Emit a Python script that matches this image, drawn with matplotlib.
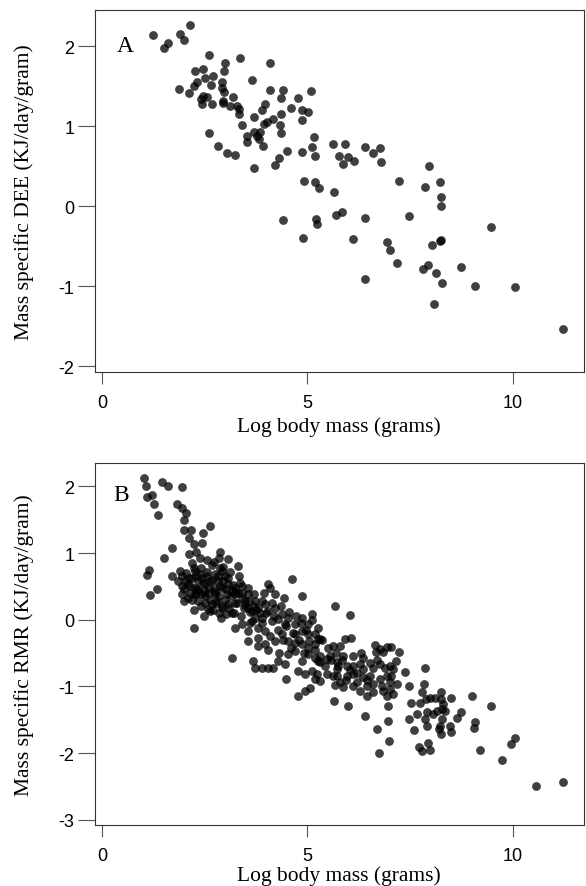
import numpy as np
import matplotlib.pyplot as plt

# panel A: daily energy expenditure (DEE)
dee_mass = [1.235, 1.51, 1.60, 1.90, 2.00, 2.14, 2.60, 3.36, 3.00, 4.09,
            2.27, 2.47, 2.51, 2.70, 2.98, 2.31, 2.24, 2.66, 2.92, 2.93,
            2.97, 3.66, 1.88, 2.11, 2.47, 2.55, 2.42, 2.44, 2.68, 2.94,
            2.95, 3.20, 3.12, 3.28, 3.33, 3.33, 4.09, 4.41, 5.09, 4.36,
            4.77, 3.98, 3.90, 4.61, 4.86, 5.02, 4.35, 3.69, 4.16, 4.01,
            3.95, 4.86, 3.41, 4.34, 4.35, 3.69, 3.85, 3.52, 3.77, 3.83,
            3.52, 3.93, 2.61, 2.82, 3.05, 3.25, 3.70, 4.22, 4.30, 4.50,
            4.86, 5.12, 5.16, 5.18, 5.62, 5.78, 4.93, 5.18, 5.29, 5.66,
            5.91, 6.00, 5.88, 6.14, 6.41, 6.59, 6.76, 6.80, 7.96, 7.24,
            7.86, 8.23, 8.26, 8.26, 5.69, 5.84, 5.21, 5.24, 6.41, 7.47,
            9.47, 4.89, 6.11, 6.95, 7.02, 7.19, 8.23, 8.04, 7.95, 7.83,
            8.13, 8.74, 8.28, 9.08, 10.05, 6.41, 8.08, 11.23, 4.41, 8.26]
dee_value = [2.148, 1.978, 2.044, 2.156, 2.078, 2.273, 1.894, 1.853, 1.798, 1.794,
             1.694, 1.719, 1.61, 1.635, 1.694, 1.553, 1.503, 1.519, 1.553, 1.485,
             1.435, 1.578, 1.469, 1.419, 1.385, 1.365, 1.344, 1.278, 1.278, 1.319,
             1.294, 1.369, 1.253, 1.253, 1.219, 1.153, 1.453, 1.453, 1.444, 1.353,
             1.36, 1.285, 1.203, 1.235, 1.21, 1.178, 1.153, 1.119, 1.094, 1.06,
             1.028, 1.078, 1.019, 1.019, 0.919, 0.935, 0.928, 0.885, 0.878, 0.844,
             0.803, 0.753, 0.923, 0.753, 0.669, 0.648, 0.478, 0.519, 0.61, 0.694,
             0.678, 0.744, 0.869, 0.628, 0.785, 0.635, 0.315, 0.31, 0.235, 0.185,
             0.778, 0.623, 0.528, 0.569, 0.744, 0.669, 0.728, 0.56, 0.503, 0.323,
             0.24, 0.303, 0.123, 0.006, -0.106, -0.069, -0.156, -0.215, -0.14, -0.123,
             -0.256, -0.398, -0.406, -0.448, -0.548, -0.703, -0.435, -0.485, -0.731, -0.785,
             -0.835, -0.753, -0.956, -0.994, -1.003, -0.906, -1.215, -1.535, -0.169, -0.42]

# panel B: resting metabolic rate (RMR)
rmr_mass = [1.015, 1.064, 1.088, 1.226, 1.259, 1.372, 1.470, 1.616, 1.941, 1.827,
            1.957, 2.038, 1.989, 2.006, 2.168, 2.119, 2.233, 2.444, 2.469, 2.623,
            1.713, 1.502, 2.119, 2.282, 1.145, 1.096, 1.340, 1.177, 1.713, 1.908,
            1.957, 2.883, 2.850, 3.078, 3.321, 3.337, 2.558, 2.672,
            2.233, 2.266, 2.184, 2.022, 1.989, 2.136, 2.266, 2.347, 2.428, 2.509,
            2.639, 2.753, 2.915, 2.956, 2.996, 2.266, 2.428, 2.590, 2.753, 2.915,
            3.078, 3.240, 3.402, 3.240, 3.402, 3.565, 3.581, 2.347, 2.509, 2.672,
            2.639, 2.850, 3.013, 3.159, 2.915, 3.078, 3.240, 3.451, 3.565, 3.727,
            3.890, 4.052, 4.101, 4.214, 4.425, 4.620, 4.864, 5.108, 2.233, 3.159,
            2.395, 2.558, 2.720, 2.477, 2.103, 2.314, 2.802, 3.045, 3.321, 2.103,
            1.941, 3.484, 2.834, 3.159, 1.860,
            3.646, 3.808, 3.971, 4.133, 4.052, 4.214, 4.377, 3.727, 3.890, 3.240,
            3.402, 3.565, 3.646, 3.808, 3.971, 4.133, 4.296, 4.458, 4.539, 4.702,
            4.864, 5.026, 4.702, 4.864, 5.026, 5.189, 5.270, 3.565, 3.792, 3.971,
            4.214, 4.377, 4.539, 4.702, 4.864, 5.026, 5.189, 4.539, 4.702, 4.864,
            5.026, 5.189, 4.783, 4.945, 5.108, 5.189, 4.474, 3.687, 3.727, 3.890,
            4.052, 4.174, 4.279, 4.458, 4.783, 4.945, 5.067, 5.229, 5.270,
            5.676, 6.041, 5.311, 5.920, 6.058, 5.636, 5.798, 5.554, 5.879, 6.123,
            6.301, 6.659, 6.772, 6.935, 7.032, 7.243, 6.675, 6.853, 5.311, 5.473,
            5.717, 5.717, 5.960, 6.123, 6.285, 6.366, 6.529, 6.772, 7.016, 7.097,
            7.373, 5.473, 5.717, 5.798, 5.960, 6.123, 6.204, 6.366, 6.529, 6.610,
            6.772, 6.935, 7.016, 7.178, 5.311, 5.676, 5.879, 6.123, 6.285, 6.448,
            6.448, 6.610, 6.853, 7.016, 7.097, 6.935, 7.471, 7.869, 7.852, 7.795,
            5.652, 5.993, 6.967, 7.519, 7.747, 7.893, 7.990, 8.120, 8.250, 8.250,
            8.315, 8.510, 9.013, 9.484, 7.666, 7.909, 8.071, 7.877, 7.925, 8.153,
            8.283, 8.364, 8.283, 8.234, 8.201, 8.250, 8.477, 8.510, 8.640, 8.737,
            9.078, 9.062, 6.415, 6.967, 6.691, 7.471, 7.601, 6.983, 6.740, 7.730,
            7.795, 7.990, 7.950, 9.208, 9.736, 9.971, 10.069, 10.573, 11.222,
            # dense core, x 2-4
            2.05, 2.15, 2.20, 2.30, 2.35, 2.40, 2.45, 2.50, 2.55, 2.60,
            2.62, 2.68, 2.70, 2.75, 2.78, 2.82, 2.85, 2.88, 2.92, 2.95,
            3.00, 3.02, 3.08, 3.10, 3.15, 3.18, 3.22, 3.25, 3.30, 3.35,
            3.38, 3.42, 3.48, 3.55, 3.60, 2.12, 2.28, 2.42, 2.58, 2.72,
            2.48, 2.90, 2.25, 1.95, 2.00, 3.70, 3.75, 3.85, 3.95, 2.88,
            3.12, 2.38, 2.18,
            # band, x 3.6-7.2
            3.90, 4.00, 4.10, 4.20, 4.28, 4.35, 4.40, 4.48, 4.55, 4.60,
            4.65, 4.72, 4.80, 4.85, 4.92, 4.98, 5.05, 5.12, 5.18, 5.25,
            5.30, 5.35, 5.42, 5.50, 5.58, 5.62, 5.70, 5.75, 5.85, 5.95,
            6.05, 6.20, 6.35, 6.45, 6.60, 6.70, 6.82, 6.90, 7.05, 7.15,
            3.60, 3.80, 4.05, 4.30, 3.70]
rmr_value = [2.131, 2.001, 1.846, 1.866, 1.731, 1.566, 2.071, 2.001, 1.996, 1.741,
             1.681, 1.606, 1.501, 1.341, 1.341, 1.221, 1.141, 1.151, 1.296, 1.411,
             1.071, 0.921, 0.991, 1.021, 0.742, 0.672, 0.462, 0.372, 0.652, 0.732,
             0.662, 1.011, 0.931, 0.911, 0.812, 0.652, 0.901, 0.822,
             0.782, 0.732, 0.632, 0.582, 0.462, 0.407, 0.482, 0.582, 0.622, 0.532,
             0.582, 0.682, 0.732, 0.792, 0.657, 0.382, 0.382, 0.407, 0.382, 0.482,
             0.532, 0.482, 0.507, 0.382, 0.332, 0.382, 0.282, 0.282, 0.257, 0.232,
             0.132, 0.107, 0.092, 0.107, 0.182, 0.232, 0.257, 0.182, 0.182, 0.282,
             0.282, 0.532, 0.482, 0.392, 0.332, 0.607, 0.362, 0.092, -0.118, -0.578,
             0.682, 0.657, 0.482, 0.432, 0.532, 0.457, 0.282, 0.382, 0.407, 0.332,
             0.382, 0.282, 0.582, 0.432, 0.582,
             0.132, 0.182, 0.232, 0.257, 0.132, 0.182, 0.082, 0.032, 0.032, -0.118,
             -0.068, -0.168, -0.018, -0.118, -0.168, -0.018, 0.007, -0.068, 0.032, -0.068,
             0.032, -0.068, -0.218, -0.168, -0.218, -0.218, -0.293, -0.318, -0.268, -0.368,
             -0.318, -0.218, -0.318, -0.343, -0.368, -0.418, -0.368, -0.518, -0.468, -0.618,
             -0.518, -0.568, -0.768, -0.818, -0.768, -0.893, -0.893, -0.618, -0.718, -0.718,
             -0.718, -0.718, -0.618, -0.668, -1.142, -1.067, -1.017, -0.818, -0.618,
             0.212, 0.072, -0.288, -0.288, -0.268, -0.398, -0.398, -0.538, -0.538, -0.538,
             -0.498, -0.378, -0.438, -0.413, -0.413, -0.488, -0.488, -0.478, -0.638, -0.588,
             -0.638, -0.738, -0.688, -0.688, -0.668, -0.738, -0.648, -0.668, -0.688, -0.738,
             -0.778, -0.813, -0.838, -0.938, -0.838, -0.813, -0.938, -0.863, -0.838, -0.963,
             -0.888, -0.838, -0.938, -0.963, -0.913, -0.978, -1.013, -0.988, -1.063, -0.988,
             -1.138, -1.088, -1.063, -1.038, -1.113, -1.138, -0.988, -0.718, -0.963, -1.088,
             -1.213, -1.298, -1.288, -1.248, -1.248, -1.188, -1.168, -1.178, -1.088, -1.188,
             -1.268, -1.168, -1.148, -1.288, -1.418, -1.388, -1.413, -1.488, -1.588, -1.363,
             -1.338, -1.363, -1.488, -1.588, -1.638, -1.713, -1.588, -1.678, -1.478, -1.388,
             -1.528, -1.628, -1.438, -1.513, -1.638, -1.488, -1.648, -1.813, -1.998, -1.913,
             -1.963, -1.953, -1.853, -1.953, -2.098, -1.868, -1.778, -2.488, -2.438,
             0.70, 0.50, 0.30, 0.65, 0.45, 0.20, 0.55, 0.35, 0.72, 0.48,
             0.30, 0.60, 0.15, 0.42, 0.25, 0.66, 0.36, 0.50, 0.20, 0.58,
             0.30, 0.46, 0.62, 0.18, 0.36, 0.52, 0.10, 0.42, 0.25, 0.55,
             0.05, 0.40, 0.22, 0.48, 0.12, 0.62, 0.38, 0.78, 0.16, 0.86,
             0.05, 0.02, 0.15, 0.50, 0.28, 0.38, 0.15, 0.10, 0.40, 0.78,
             0.72, 0.92, 0.85,
             -0.05, 0.10, -0.25, 0.05, -0.15, 0.20, -0.30, -0.10, 0.12, -0.42,
             -0.20, 0.05, -0.30, -0.05, -0.50, -0.15, -0.32, 0.00, -0.45, -0.12,
             -0.55, -0.30, -0.70, -0.42, -0.60, -0.85, -0.50, -0.70, -0.60, -0.90,
             -0.75, -0.80, -0.58, -0.90, -0.72, -0.60, -1.00, -0.72, -0.85, -0.62,
             -0.05, -0.40, -0.45, -0.50, 0.20]

xticks = [0, 5, 10]
yticks_a = [-2, -1, 0, 1, 2]
yticks_b = [-3, -2, -1, 0, 1, 2]

serif = ['Liberation Serif', 'DejaVu Serif']
sans = ['Liberation Sans', 'DejaVu Sans']

fig = plt.figure(figsize=(5.86, 8.87), dpi=100)
axA = fig.add_axes([0.1613, 0.5795, 0.8345, 0.4085])
axB = fig.add_axes([0.1613, 0.0688, 0.8345, 0.4078])

panels = [
    (axA, dee_mass, dee_value, yticks_a, (-2.07, 2.46), 'A', (0.062, 0.900),
     'Mass specific DEE (KJ/day/gram)', -0.149),
    (axB, rmr_mass, rmr_value, yticks_b, (-3.077, 2.346), 'B', (0.054, 0.914),
     'Mass specific RMR (KJ/day/gram)', -0.140),
]

for ax, xs, ys, yt, ylim, tag, tagpos, ylab, xlab_y in panels:
    ax.scatter(xs, ys, s=40, color='black', alpha=0.75, linewidths=0, zorder=3)
    ax.set_xlim(-0.183, 11.73)
    ax.set_ylim(*ylim)
    ax.set_xticks(xticks)
    ax.set_yticks(yt)
    ax.set_xticklabels([str(t) for t in xticks], family=sans, fontsize=13)
    ax.set_yticklabels([str(t) for t in yt], family=sans, fontsize=13)
    ax.tick_params(axis='x', direction='out', length=8.4, width=0.8,
                   color='#555555', pad=7.5)
    ax.tick_params(axis='y', direction='out', length=12, width=0.8,
                   color='#555555', pad=2.5)
    for sp in ax.spines.values():
        sp.set_linewidth(0.8)
        sp.set_color('#333333')
    ax.text(tagpos[0], tagpos[1], tag, transform=ax.transAxes, family=serif,
            fontsize=17, ha='center', va='center')
    ax.set_xlabel('Log body mass (grams)', family=serif, fontsize=15.5)
    ax.xaxis.set_label_coords(0.5, xlab_y)
    ax.xaxis.label.set_va('center')
    ax.set_ylabel(ylab, family=serif, fontsize=15.5)
    ax.yaxis.set_label_coords(-0.144, 0.5)
    ax.yaxis.label.set_va('center')

fig.savefig('out.png', dpi=100)
